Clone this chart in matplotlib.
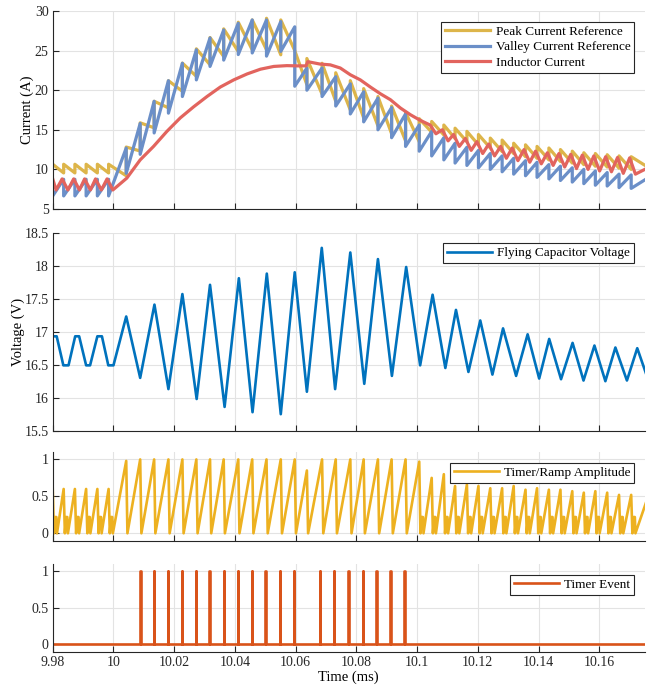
import matplotlib
matplotlib.use('Agg')
import matplotlib.pyplot as plt
import numpy as np

plt.rcParams['font.family'] = ['Liberation Serif', 'DejaVu Serif']
plt.rcParams['mathtext.fontset'] = 'stix'

# switching instants (ms): start of each ramp tooth, last entry = end of record
t_sw = [9.9800, 9.9836, 9.9873, 9.9910, 9.9947, 9.9984,
        10.0042, 10.0088, 10.0134, 10.0181, 10.0227, 10.0273, 10.0318, 10.0363,
        10.0411, 10.0457, 10.0504, 10.0551, 10.0597, 10.0637, 10.0687, 10.0732,
        10.0780, 10.0824, 10.0871, 10.0916, 10.0962, 10.1007,
        10.1048, 10.1088, 10.1125, 10.1164, 10.1202, 10.1241, 10.1280, 10.1318,
        10.1357, 10.1395, 10.1434, 10.1472, 10.1511, 10.1549, 10.1587, 10.1626,
        10.1665, 10.1705, 10.1755]

# ramp value reached at the end of each tooth
ramp_peak = [0.6, 0.6, 0.6, 0.6, 0.6, 0.98,
             1.0, 1.0, 1.0, 1.0, 1.0, 1.0, 1.0, 1.0, 1.0, 1.0, 1.0, 1.0,
             0.85, 1.0, 1.0, 1.0, 1.0, 1.0, 1.0, 1.0, 0.97,
             0.75, 0.80, 0.64, 0.66, 0.64, 0.61, 0.61, 0.64, 0.59, 0.61,
             0.59, 0.59, 0.57, 0.55, 0.57, 0.55, 0.52, 0.52, 0.43]
ramp_notch = [True] * 6 + [False] * 21 + [True] * 19

# peak current reference: value after jump / value before next jump
peak_top = [10.65, 10.65, 10.65, 10.65, 10.65, 10.65,
            12.82, 15.88, 18.6, 21.2, 23.42, 25.22, 26.65, 27.74, 28.58, 28.87,
            29.08, 28.87, 25.0, 24.0, 23.4, 22.2, 21.2, 20.2, 19.2, 18.0, 17.2,
            16.4, 16.05, 15.6, 15.2, 14.8, 14.4, 13.95, 13.7, 13.3, 13.1, 12.9,
            12.7, 12.5, 12.3, 12.1, 12.0, 11.85, 11.7, 11.6]
peak_bot = [9.55, 9.55, 9.55, 9.55, 9.55, 9.2,
            12.32, 15.25, 17.77, 19.86, 21.75, 23.21, 24.26, 24.89, 25.1, 25.1,
            24.47, 25.0, 20.7, 19.5, 18.6, 17.5, 16.5, 15.5, 14.5, 13.6, 13.5,
            14.7, 14.35, 13.9, 13.5, 13.1, 12.7, 12.25, 12.0, 11.6, 11.4, 11.2,
            11.0, 10.8, 10.6, 10.4, 10.3, 10.15, 10.0, 10.4]

# valley current reference: value after drop / value before next drop
valley_bot = [6.65, 6.65, 6.65, 6.65, 6.65, 6.65,
              9.5, 11.9, 14.6, 17.1, 19.2, 21.3, 23.0, 23.8, 24.5, 24.7,
              24.3, 24.9, 20.5, 20.0, 19.2, 18.0, 17.0, 16.0, 15.0, 14.0, 12.9,
              12.3, 11.7, 11.2, 10.8, 10.5, 10.2, 10.0, 9.7, 9.4, 9.2, 9.0,
              8.8, 8.6, 8.4, 8.2, 8.0, 7.9, 7.7, 7.6]
valley_top = [8.75, 8.75, 8.75, 8.75, 8.75, 12.7,
              15.8, 18.6, 21.2, 23.4, 25.1, 26.6, 27.6, 28.45, 28.87, 28.87,
              28.66, 28.0, 22.8, 22.8, 21.7, 20.8, 19.8, 19.0, 17.8, 17.0, 15.6,
              14.8, 14.0, 13.3, 12.8, 12.4, 12.0, 11.7, 11.4, 11.1, 10.9, 10.6,
              10.4, 10.2, 10.0, 9.8, 9.6, 9.4, 9.3, 8.8]

# inductor current vertices
il_t = [9.9800, 9.9811, 9.9831, 9.9850, 9.9869, 9.9888, 9.9905, 9.9924,
        9.9941, 9.9960, 9.9979, 9.9998,
        10.0044, 10.0088, 10.0132, 10.0176, 10.0220, 10.0264, 10.0308, 10.0352,
        10.0396, 10.0440, 10.0484, 10.0528, 10.0571, 10.0604, 10.0634, 10.0640,
        10.0680, 10.0714, 10.0747, 10.0780, 10.0813, 10.0846, 10.0879, 10.0912,
        10.0945, 10.0978, 10.1010,
        10.1043, 10.1062, 10.1083, 10.1102, 10.1120, 10.1139, 10.1159, 10.1178,
        10.1197, 10.1216, 10.1236, 10.1255, 10.1275, 10.1294, 10.1313, 10.1332,
        10.1352, 10.1371, 10.1390, 10.1409, 10.1429, 10.1448, 10.1467, 10.1486,
        10.1506, 10.1525, 10.1544, 10.1563, 10.1582, 10.1601, 10.1621, 10.1640,
        10.1660, 10.1679, 10.1700, 10.1719, 10.1755]
il_v = [8.8, 7.4, 8.8, 7.4, 8.8, 7.4, 8.8, 7.4, 8.8, 7.4, 8.8, 7.4,
        8.9, 11.2, 12.9, 14.8, 16.5, 17.9, 19.2, 20.4, 21.3, 22.05, 22.65,
        23.0, 23.1, 23.07, 23.07, 23.6, 23.3, 23.2, 22.8, 21.95, 21.3, 20.4,
        19.55, 18.8, 17.75, 16.9, 16.2,
        15.6, 14.5, 15.0, 13.6, 14.4, 12.9, 13.9, 12.4, 13.5, 12.0, 13.2, 11.7,
        12.9, 11.4, 12.7, 11.1, 12.5, 10.9, 12.3, 10.7, 12.1, 10.5, 12.0, 10.3,
        11.9, 10.1, 11.8, 10.0, 11.7, 9.8, 11.6, 9.7, 11.5, 9.5, 11.45, 9.4,
        10.1]

# flying capacitor voltage vertices
vc_t = [9.9800, 9.9813, 9.9835, 9.9852, 9.9874, 9.9887, 9.9910, 9.9923,
        9.9947, 9.9962, 9.9983, 10.0000,
        10.0042, 10.0088, 10.0135, 10.0181, 10.0227, 10.0274, 10.0318, 10.0366,
        10.0413, 10.0458, 10.0505, 10.0551, 10.0597, 10.0637, 10.0686,
        10.0730, 10.0780, 10.0826, 10.0871, 10.0917, 10.0964, 10.1010, 10.1051,
        10.1093, 10.1128, 10.1169, 10.1208, 10.1248, 10.1283, 10.1326, 10.1364,
        10.1402, 10.1435, 10.1474, 10.1512, 10.1548, 10.1584, 10.1620, 10.1653,
        10.1691, 10.1725, 10.1755]
vc_v = [16.93, 16.93, 16.49, 16.49, 16.93, 16.93, 16.49, 16.49,
        16.93, 16.93, 16.49, 16.49,
        17.23, 16.30, 17.41, 16.13, 17.57, 15.98, 17.71, 15.86, 17.81, 15.78,
        17.88, 15.75, 17.90, 16.09, 18.27,
        16.13, 18.20, 16.21, 18.10, 16.33, 17.98, 16.49, 17.56,
        16.45, 17.33, 16.39, 17.17, 16.35, 17.05, 16.33, 16.96,
        16.29, 16.89, 16.28, 16.83, 16.26, 16.79, 16.25, 16.76,
        16.26, 16.75, 16.35]

# timer events (ms)
ev_t = [10.0089, 10.0133, 10.0179, 10.0226, 10.0271, 10.0316, 10.0363,
        10.0410, 10.0455, 10.0500, 10.0547, 10.0595,
        10.0679, 10.0726, 10.0774, 10.0821, 10.0866, 10.0912, 10.0958]

x_ticks = [9.98, 10, 10.02, 10.04, 10.06, 10.08, 10.1, 10.12, 10.14, 10.16]
x_ticklabels = ['9.98', '10', '10.02', '10.04', '10.06', '10.08', '10.1',
                '10.12', '10.14', '10.16']

c_peak = '#DDB54A'
c_valley = '#6B8FC8'
c_il = '#E2645E'
c_vc = '#0072BD'
c_ramp = '#EDB120'
c_ev = '#D95319'

# build polylines from the tooth tables
n = len(t_sw) - 1
pk_x, pk_y, vl_x, vl_y = [], [], [], []
for i in range(n):
    pk_x += [t_sw[i], t_sw[i + 1]]
    pk_y += [peak_top[i], peak_bot[i]]
    vl_x += [t_sw[i], t_sw[i + 1]]
    vl_y += [valley_bot[i], valley_top[i]]

drop = 0.0004
rp_x, rp_y = [t_sw[0]], [0.6]
for i in range(n):
    t0 = t_sw[i]
    rp_x.append(t0 + drop); rp_y.append(0.0)
    if ramp_notch[i]:
        rp_x += [t0 + drop + 0.0004, t0 + drop + 0.0008, t0 + drop + 0.0010]
        rp_y += [0.22, 0.22, 0.0]
    rp_x.append(t_sw[i + 1]); rp_y.append(ramp_peak[i])

ev_x, ev_y = [9.975], [0.0]
for te in ev_t:
    ev_x += [te, te, te + 0.00012, te + 0.00012]
    ev_y += [0, 1, 1, 0]
ev_x.append(10.18); ev_y.append(0.0)

fig = plt.figure(figsize=(6.55, 6.87), dpi=100)
L, W = 0.0805, 0.904
ax1 = fig.add_axes([L, 0.6958, W, 0.2882])
ax2 = fig.add_axes([L, 0.3731, W, 0.2882])
ax3 = fig.add_axes([L, 0.2130, W, 0.1290])
ax4 = fig.add_axes([L, 0.0514, W, 0.1276])

ax1.plot(pk_x, pk_y, color=c_peak, lw=2.3, label='Peak Current Reference')
ax1.plot(vl_x, vl_y, color=c_valley, lw=2.3, label='Valley Current Reference')
ax1.plot(il_t, il_v, color=c_il, lw=2.3, label='Inductor Current')
ax1.set_ylim(5, 30)
ax1.set_yticks([5, 10, 15, 20, 25, 30])
ax1.set_ylabel('Current (A)', fontsize=10.5)
ax1.yaxis.set_label_coords(-0.032, 0.5)

ax2.plot(vc_t, vc_v, color=c_vc, lw=1.9, label='Flying Capacitor Voltage')
ax2.set_ylim(15.5, 18.5)
ax2.set_yticks([15.5, 16, 16.5, 17, 17.5, 18, 18.5])
ax2.set_yticklabels(['15.5', '16', '16.5', '17', '17.5', '18', '18.5'])
ax2.set_ylabel('Voltage (V)', fontsize=10.5)
ax2.yaxis.set_label_coords(-0.047, 0.5)

ax3.plot(rp_x, rp_y, color=c_ramp, lw=1.9, label='Timer/Ramp Amplitude')
ax3.set_ylim(-0.1, 1.1)
ax3.set_yticks([0, 0.5, 1])
ax3.set_yticklabels(['0', '0.5', '1'])

ax4.plot(ev_x, ev_y, color=c_ev, lw=1.9, label='Timer Event')
ax4.set_ylim(-0.1, 1.1)
ax4.set_yticks([0, 0.5, 1])
ax4.set_yticklabels(['0', '0.5', '1'])
ax4.set_xlabel('Time (ms)', fontsize=10.5, labelpad=1)

for ax in (ax1, ax2, ax3, ax4):
    ax.set_xlim(9.98, 10.175)
    ax.set_xticks(x_ticks)
    if ax is ax4:
        ax.set_xticklabels(x_ticklabels)
    else:
        ax.set_xticklabels([])
    ax.grid(True, color='#E3E3E3', lw=0.8)
    ax.set_axisbelow(True)
    for s in ('top', 'right'):
        ax.spines[s].set_visible(False)
    for s in ('left', 'bottom'):
        ax.spines[s].set_color('#262626')
        ax.spines[s].set_linewidth(0.8)
    ax.tick_params(direction='in', length=4, width=0.8, color='#262626',
                   labelsize=10, labelcolor='#262626', pad=3)
    leg = ax.legend(loc='upper right', fontsize=9.5, frameon=True,
                    fancybox=False, framealpha=1, edgecolor='#262626',
                    handlelength=3.4, handletextpad=0.4, borderpad=0.3,
                    labelspacing=0.25, borderaxespad=0.8)
    leg.get_frame().set_linewidth(0.8)

fig.savefig('out.png', dpi=100)
